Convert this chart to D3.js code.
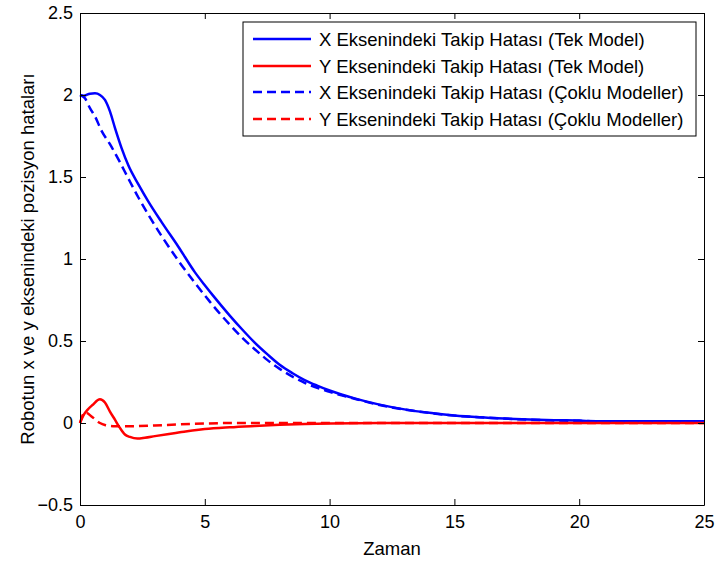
<!DOCTYPE html>
<html>
<head>
<meta charset="utf-8">
<script src="https://cdn.jsdelivr.net/npm/d3@7"></script>
<style>
  html, body { margin: 0; padding: 0; background: #fff; }
  svg { display: block; font-family: "Liberation Sans", Arial, sans-serif; }
</style>
</head>
<body>
<svg id="chart" width="717" height="563"></svg>
<script>
// Tracking error along each axis over time
const timeXTek = [0, 0.15, 0.4, 0.6, 0.8, 1.0, 1.2, 1.4, 1.67, 1.94, 2.34, 2.74, 3.27, 3.94, 4.6, 5.0, 5.34, 6.0, 6.5, 7.0, 7.5, 8.0, 8.5, 9.0, 9.5, 10, 11, 12, 13, 14, 15, 16, 17, 18, 19, 20, 20.6, 22, 25];
const errXTek  = [2.0, 1.995, 2.008, 2.01, 2.0, 1.97, 1.90, 1.80, 1.675, 1.57, 1.455, 1.35, 1.225, 1.075, 0.92, 0.84, 0.775, 0.655, 0.57, 0.49, 0.42, 0.355, 0.305, 0.262, 0.228, 0.198, 0.15, 0.112, 0.083, 0.062, 0.046, 0.035, 0.027, 0.021, 0.017, 0.015, 0.01, 0.01, 0.01];

const timeYTek = [0, 0.15, 0.3, 0.5, 0.8, 1.0, 1.2, 1.4, 1.6, 1.8, 2.0, 2.3, 2.6, 3.0, 3.5, 4.0, 4.5, 5.0, 6.0, 7.0, 8.0, 9.0, 10, 11, 12, 25];
const errYTek  = [0.0, 0.05, 0.08, 0.11, 0.145, 0.125, 0.07, 0.02, -0.03, -0.07, -0.085, -0.095, -0.09, -0.08, -0.068, -0.057, -0.046, -0.037, -0.026, -0.018, -0.011, -0.006, -0.003, -0.001, 0.0, 0.0];

const timeXCoklu = [0, 0.2, 0.4, 0.6, 0.87, 1.2, 1.6, 1.94, 2.34, 2.74, 3.27, 3.94, 4.6, 5.2, 5.5, 6.0, 6.5, 7.0, 7.5, 8.0, 9.0, 10, 11, 12, 13, 14, 15, 16, 17, 18, 19, 20, 21, 25];
const errXCoklu  = [2.0, 1.98, 1.92, 1.87, 1.78, 1.70, 1.59, 1.49, 1.375, 1.27, 1.14, 0.99, 0.855, 0.74, 0.685, 0.60, 0.52, 0.45, 0.385, 0.33, 0.245, 0.19, 0.148, 0.11, 0.082, 0.061, 0.045, 0.035, 0.027, 0.02, 0.016, 0.013, 0.01, 0.01];

const timeYCoklu = [0, 0.2, 0.5, 0.8, 1.0, 1.4, 2.0, 3.0, 4.0, 5.0, 6.0, 25];
const errYCoklu  = [0.0, 0.065, 0.035, 0.0, -0.012, -0.02, -0.02, -0.015, -0.008, -0.003, 0.0, 0.0];

const xTicks = [0, 5, 10, 15, 20, 25];
const yTicks = [-0.5, 0, 0.5, 1, 1.5, 2, 2.5];

const seriesNames = [
  "X Eksenindeki Takip Hatası (Tek Model)",
  "Y Eksenindeki Takip Hatası (Tek Model)",
  "X Eksenindeki Takip Hatası (Çoklu Modeller)",
  "Y Eksenindeki Takip Hatası (Çoklu Modeller)"
];

const series = [
  { name: seriesNames[0], t: timeXTek,   v: errXTek,   color: "#0000ff", dash: null },
  { name: seriesNames[1], t: timeYTek,   v: errYTek,   color: "#ff0000", dash: null },
  { name: seriesNames[2], t: timeXCoklu, v: errXCoklu, color: "#0000ff", dash: "9,5" },
  { name: seriesNames[3], t: timeYCoklu, v: errYCoklu, color: "#ff0000", dash: "9,5" }
];

const svg = d3.select("#chart");
const plot = { left: 80, right: 704, top: 13, bottom: 505 };

const x = d3.scaleLinear().domain([0, 25]).range([plot.left, plot.right]);
const y = d3.scaleLinear().domain([-0.5, 2.5]).range([plot.bottom, plot.top]);

const tickLen = 6;
const tickFont = 18;
const textFont = 18.5;

// Axes: ticks point inward, on all four sides
const axisBottom = d3.axisBottom(x).tickValues(xTicks).tickSizeInner(-tickLen).tickSizeOuter(0).tickPadding(10).tickFormat(d3.format("d"));
const axisTop = d3.axisTop(x).tickValues(xTicks).tickSizeInner(-tickLen).tickSizeOuter(0).tickFormat("");
const axisLeft = d3.axisLeft(y).tickValues(yTicks).tickSizeInner(-tickLen).tickSizeOuter(0).tickPadding(7).tickFormat(d => d3.format("")(d));
const axisRight = d3.axisRight(y).tickValues(yTicks).tickSizeInner(-tickLen).tickSizeOuter(0).tickFormat("");

function style(g) {
  g.selectAll("path.domain").attr("stroke", "#000").attr("stroke-width", 1);
  g.selectAll(".tick line").attr("stroke", "#000").attr("stroke-width", 1);
  g.selectAll(".tick text").attr("fill", "#000").style("font-size", tickFont + "px").style("font-family", "Liberation Sans, Arial, sans-serif");
}

// Curves
const line = d3.line().x(d => x(d[0])).y(d => y(d[1])).curve(d3.curveMonotoneX);
const lines = svg.append("g");
series.forEach(s => {
  const pts = s.t.map((t, i) => [t, s.v[i]]);
  lines.append("path")
    .attr("d", line(pts))
    .attr("fill", "none")
    .attr("stroke", s.color)
    .attr("stroke-width", 2.5)
    .attr("stroke-linejoin", "round")
    .attr("stroke-dasharray", s.dash);
});

svg.append("g").attr("transform", `translate(0,${plot.bottom})`).call(axisBottom).call(style);
svg.append("g").attr("transform", `translate(0,${plot.top})`).call(axisTop).call(style);
svg.append("g").attr("transform", `translate(${plot.left},0)`).call(axisLeft).call(style);
svg.append("g").attr("transform", `translate(${plot.right},0)`).call(axisRight).call(style);

// Axis titles
svg.append("text")
  .attr("x", (plot.left + plot.right) / 2)
  .attr("y", 555)
  .attr("text-anchor", "middle")
  .style("font-size", textFont + "px")
  .text("Zaman");

svg.append("text")
  .attr("transform", `translate(34,${(plot.top + plot.bottom) / 2}) rotate(-90)`)
  .attr("text-anchor", "middle")
  .style("font-size", textFont + "px")
  .text("Robotun x ve y eksenindeki pozisyon hataları");

// Legend
const legend = svg.append("g");
const lg = { x: 243, y: 22, w: 453, h: 114 };
legend.append("rect")
  .attr("x", lg.x).attr("y", lg.y).attr("width", lg.w).attr("height", lg.h)
  .attr("fill", "#fff").attr("stroke", "#000").attr("stroke-width", 1);
const rowY = [39, 66, 92, 119];
series.forEach((s, i) => {
  legend.append("line")
    .attr("x1", 253).attr("x2", 311)
    .attr("y1", rowY[i]).attr("y2", rowY[i])
    .attr("stroke", s.color).attr("stroke-width", 2.5)
    .attr("stroke-dasharray", s.dash);
  legend.append("text")
    .attr("x", 319).attr("y", rowY[i] + 6.5)
    .style("font-size", textFont + "px")
    .text(s.name);
});
</script>
</body>
</html>
